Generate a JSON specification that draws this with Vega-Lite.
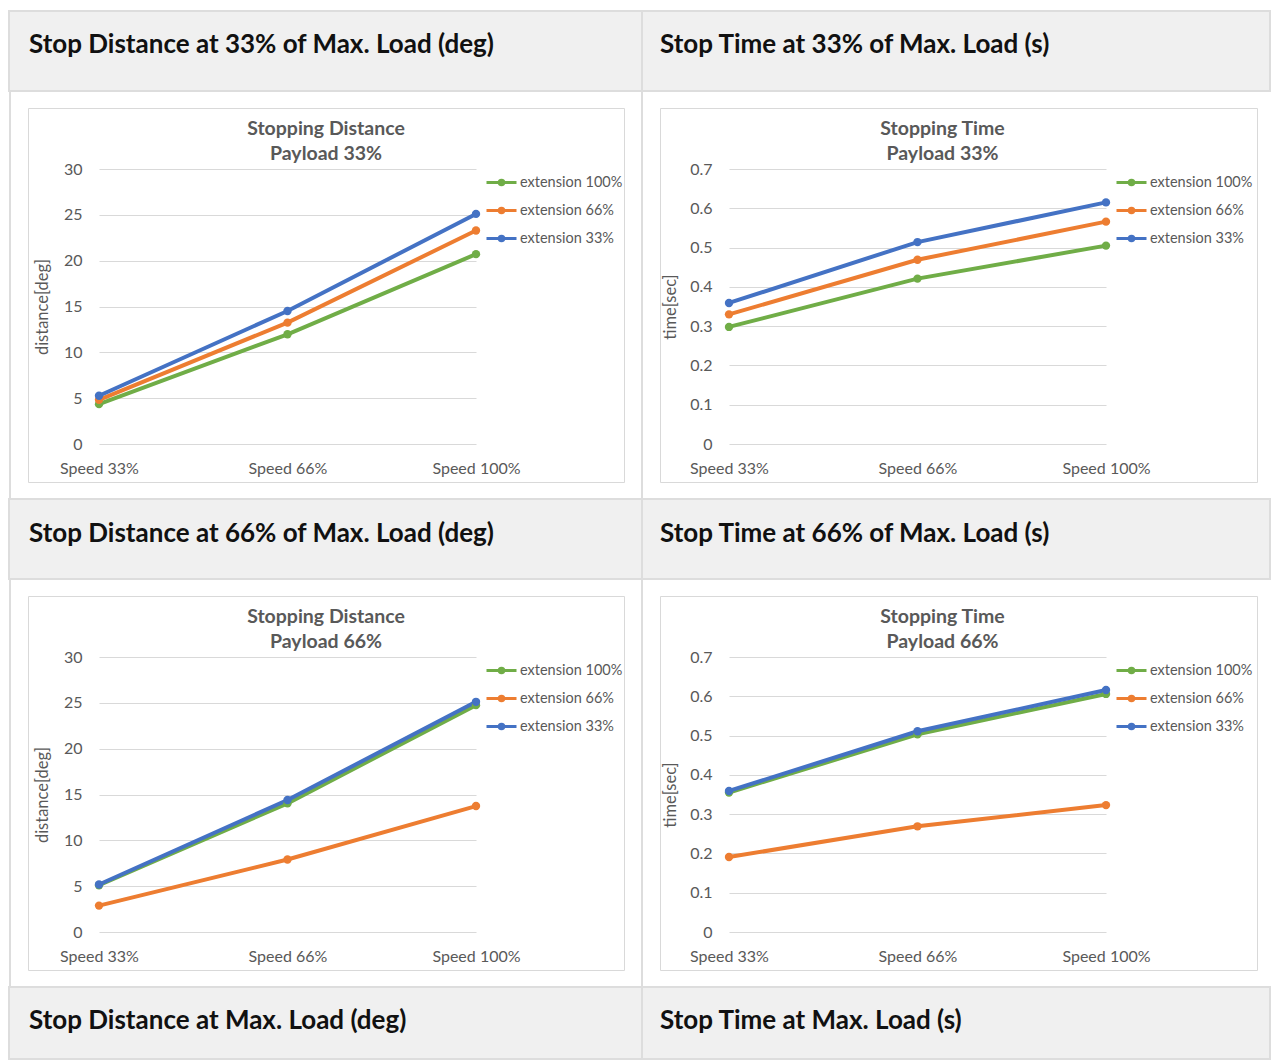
{
  "$schema": "https://vega.github.io/schema/vega-lite/v6.json",
  "padding": {"left": 8, "top": 10, "right": 0, "bottom": 0},
  "background": "white",
  "datasets": {
    "runs": [
      {"m": "distance", "p": "33%", "ext": "extension 100%", "speed": "Speed 33%", "v": 4.35},
      {"m": "distance", "p": "33%", "ext": "extension 100%", "speed": "Speed 66%", "v": 11.97},
      {"m": "distance", "p": "33%", "ext": "extension 100%", "speed": "Speed 100%", "v": 20.71},
      {"m": "distance", "p": "33%", "ext": "extension 66%", "speed": "Speed 33%", "v": 4.82},
      {"m": "distance", "p": "33%", "ext": "extension 66%", "speed": "Speed 66%", "v": 13.24},
      {"m": "distance", "p": "33%", "ext": "extension 66%", "speed": "Speed 100%", "v": 23.29},
      {"m": "distance", "p": "33%", "ext": "extension 33%", "speed": "Speed 33%", "v": 5.26},
      {"m": "distance", "p": "33%", "ext": "extension 33%", "speed": "Speed 66%", "v": 14.51},
      {"m": "distance", "p": "33%", "ext": "extension 33%", "speed": "Speed 100%", "v": 25.10},
      {"m": "time", "p": "33%", "ext": "extension 100%", "speed": "Speed 33%", "v": 0.298},
      {"m": "time", "p": "33%", "ext": "extension 100%", "speed": "Speed 66%", "v": 0.421},
      {"m": "time", "p": "33%", "ext": "extension 100%", "speed": "Speed 100%", "v": 0.505},
      {"m": "time", "p": "33%", "ext": "extension 66%", "speed": "Speed 33%", "v": 0.330},
      {"m": "time", "p": "33%", "ext": "extension 66%", "speed": "Speed 66%", "v": 0.469},
      {"m": "time", "p": "33%", "ext": "extension 66%", "speed": "Speed 100%", "v": 0.566},
      {"m": "time", "p": "33%", "ext": "extension 33%", "speed": "Speed 33%", "v": 0.359},
      {"m": "time", "p": "33%", "ext": "extension 33%", "speed": "Speed 66%", "v": 0.514},
      {"m": "time", "p": "33%", "ext": "extension 33%", "speed": "Speed 100%", "v": 0.615},
      {"m": "distance", "p": "66%", "ext": "extension 100%", "speed": "Speed 33%", "v": 5.10},
      {"m": "distance", "p": "66%", "ext": "extension 100%", "speed": "Speed 66%", "v": 14.03},
      {"m": "distance", "p": "66%", "ext": "extension 100%", "speed": "Speed 100%", "v": 24.75},
      {"m": "distance", "p": "66%", "ext": "extension 66%", "speed": "Speed 33%", "v": 2.88},
      {"m": "distance", "p": "66%", "ext": "extension 66%", "speed": "Speed 66%", "v": 7.91},
      {"m": "distance", "p": "66%", "ext": "extension 66%", "speed": "Speed 100%", "v": 13.74},
      {"m": "distance", "p": "66%", "ext": "extension 33%", "speed": "Speed 33%", "v": 5.18},
      {"m": "distance", "p": "66%", "ext": "extension 33%", "speed": "Speed 66%", "v": 14.40},
      {"m": "distance", "p": "66%", "ext": "extension 33%", "speed": "Speed 100%", "v": 25.11},
      {"m": "time", "p": "66%", "ext": "extension 100%", "speed": "Speed 33%", "v": 0.355},
      {"m": "time", "p": "66%", "ext": "extension 100%", "speed": "Speed 66%", "v": 0.503},
      {"m": "time", "p": "66%", "ext": "extension 100%", "speed": "Speed 100%", "v": 0.606},
      {"m": "time", "p": "66%", "ext": "extension 66%", "speed": "Speed 33%", "v": 0.191},
      {"m": "time", "p": "66%", "ext": "extension 66%", "speed": "Speed 66%", "v": 0.269},
      {"m": "time", "p": "66%", "ext": "extension 66%", "speed": "Speed 100%", "v": 0.323},
      {"m": "time", "p": "66%", "ext": "extension 33%", "speed": "Speed 33%", "v": 0.359},
      {"m": "time", "p": "66%", "ext": "extension 33%", "speed": "Speed 66%", "v": 0.511},
      {"m": "time", "p": "66%", "ext": "extension 33%", "speed": "Speed 100%", "v": 0.616}
    ]
  },
  "config": {
    "font": "Lato",
    "axis": {"labelFont": "Lato", "labelColor": "#595959", "labelFontSize": 16, "titleFont": "Lato", "titleColor": "#595959", "titleFontWeight": "normal", "titleFontSize": 16.5, "domain": false, "ticks": false},
    "legend": {"labelFont": "Lato", "labelFontSize": 14.5, "labelColor": "#595959", "labelOffset": 2, "symbolSize": 900, "symbolStrokeWidth": 3, "rowPadding": 3},
    "title": {"font": "Lato", "fontSize": 19.5, "fontWeight": "bold", "color": "#595959", "lineHeight": 25, "anchor": "middle", "frame": "group", "baseline": "top", "offset": -56}
  },
  "vconcat": [
    {
      "hconcat": [
        {"width": 633, "height": 80, "view": {"fill": "#f0f0f0", "stroke": "#dddddd", "strokeWidth": 2},
         "data": {"values": [{"label": "Stop Distance at 33% of Max. Load (deg)"}]},
         "mark": {"type": "text", "align": "left", "baseline": "middle", "dx": -296.5, "dy": -6, "font": "Lato", "fontSize": 26, "fontWeight": "bold", "color": "#111111"},
         "encoding": {"text": {"field": "label"}}},
        {"width": 628, "height": 80, "view": {"fill": "#f0f0f0", "stroke": "#dddddd", "strokeWidth": 2},
         "data": {"values": [{"label": "Stop Time at 33% of Max. Load (s)"}]},
         "mark": {"type": "text", "align": "left", "baseline": "middle", "dx": -296, "dy": -6, "font": "Lato", "fontSize": 26, "fontWeight": "bold", "color": "#111111"},
         "encoding": {"text": {"field": "label"}}}
      ],
      "spacing": 0, "bounds": "flush"
    },
    {
      "hconcat": [
        {"width": 2, "height": 406, "view": {"fill": "#dddddd", "stroke": null}, "data": {"values": []}, "mark": "text", "encoding": {}},
        {
          "width": 596, "height": 374, "view": {"fill": "white", "stroke": "#d9d9d9", "strokeWidth": 1},
          "title": {"text": ["Stopping Distance", "Payload 33%"]},
          "data": {"name": "runs"},
          "transform": [{"filter": "datum.m === 'distance' && datum.p === '33%'"}],
          "mark": {"type": "line", "strokeWidth": 4, "point": {"filled": true, "size": 70}},
          "encoding": {
            "x": {"field": "speed", "type": "ordinal", "sort": ["Speed 33%", "Speed 66%", "Speed 100%"], "scale": {"type": "point", "padding": 0, "range": [71, 448]},
                  "axis": {"orient": "bottom", "offset": -24, "labelPadding": 2, "labelBaseline": "top", "labelAngle": 0, "grid": false, "title": null}},
            "y": {"field": "v", "type": "quantitative", "scale": {"domain": [0, 30], "range": [336, 61], "nice": false},
                  "axis": {"values": [0, 5, 10, 15, 20, 25, 30], "format": "d", "grid": true, "gridColor": "#d9d9d9", "gridWidth": 1, "offset": -58, "labelPadding": 4, "title": "distance[deg]", "titlePadding": 13}},
            "color": {"field": "ext", "type": "nominal", "scale": {"domain": ["extension 100%", "extension 66%", "extension 33%"], "range": ["#70ad47", "#ed7d31", "#4472c4"]},
                      "legend": {"orient": "none", "legendX": 457, "legendY": 58, "title": null, "symbolType": "M-1,0H1M-0.15,0A0.15,0.15 0 1,0 0.15,0A0.15,0.15 0 1,0 -0.15,0"}}
          }
        },
        {"width": 2, "height": 406, "view": {"fill": "#dddddd", "stroke": null}, "data": {"values": []}, "mark": "text", "encoding": {}},
        {
          "width": 597, "height": 374, "view": {"fill": "white", "stroke": "#d9d9d9", "strokeWidth": 1},
          "title": {"text": ["Stopping Time", "Payload 33%"], "dx": -16},
          "data": {"name": "runs"},
          "transform": [{"filter": "datum.m === 'time' && datum.p === '33%'"}],
          "mark": {"type": "line", "strokeWidth": 4, "point": {"filled": true, "size": 70}},
          "encoding": {
            "x": {"field": "speed", "type": "ordinal", "sort": ["Speed 33%", "Speed 66%", "Speed 100%"], "scale": {"type": "point", "padding": 0, "range": [69, 446]},
                  "axis": {"orient": "bottom", "offset": -24, "labelPadding": 2, "labelBaseline": "top", "labelAngle": 0, "grid": false, "title": null}},
            "y": {"field": "v", "type": "quantitative", "scale": {"domain": [0, 0.7], "range": [336, 61], "nice": false},
                  "axis": {"values": [0, 0.1, 0.2, 0.3, 0.4, 0.5, 0.6, 0.7], "format": ".1~f", "grid": true, "gridColor": "#d9d9d9", "gridWidth": 1, "offset": -56, "labelPadding": 4, "title": "time[sec]", "titlePadding": 11}},
            "color": {"field": "ext", "type": "nominal", "scale": {"domain": ["extension 100%", "extension 66%", "extension 33%"], "range": ["#70ad47", "#ed7d31", "#4472c4"]},
                      "legend": {"orient": "none", "legendX": 455, "legendY": 58, "title": null, "symbolType": "M-1,0H1M-0.15,0A0.15,0.15 0 1,0 0.15,0A0.15,0.15 0 1,0 -0.15,0"}}
          }
        }
      ],
      "spacing": 17, "bounds": "flush", "center": true,
      "resolve": {"scale": {"x": "independent", "y": "independent", "color": "independent"}, "legend": {"color": "independent"}}
    },
    {
      "hconcat": [
        {"width": 633, "height": 80, "view": {"fill": "#f0f0f0", "stroke": "#dddddd", "strokeWidth": 2},
         "data": {"values": [{"label": "Stop Distance at 66% of Max. Load (deg)"}]},
         "mark": {"type": "text", "align": "left", "baseline": "middle", "dx": -296.5, "dy": -5, "font": "Lato", "fontSize": 26, "fontWeight": "bold", "color": "#111111"},
         "encoding": {"text": {"field": "label"}}},
        {"width": 628, "height": 80, "view": {"fill": "#f0f0f0", "stroke": "#dddddd", "strokeWidth": 2},
         "data": {"values": [{"label": "Stop Time at 66% of Max. Load (s)"}]},
         "mark": {"type": "text", "align": "left", "baseline": "middle", "dx": -296, "dy": -5, "font": "Lato", "fontSize": 26, "fontWeight": "bold", "color": "#111111"},
         "encoding": {"text": {"field": "label"}}}
      ],
      "spacing": 0, "bounds": "flush"
    },
    {
      "hconcat": [
        {"width": 2, "height": 406, "view": {"fill": "#dddddd", "stroke": null}, "data": {"values": []}, "mark": "text", "encoding": {}},
        {
          "width": 596, "height": 374, "view": {"fill": "white", "stroke": "#d9d9d9", "strokeWidth": 1},
          "title": {"text": ["Stopping Distance", "Payload 66%"]},
          "data": {"name": "runs"},
          "transform": [{"filter": "datum.m === 'distance' && datum.p === '66%'"}],
          "mark": {"type": "line", "strokeWidth": 4, "point": {"filled": true, "size": 70}},
          "encoding": {
            "x": {"field": "speed", "type": "ordinal", "sort": ["Speed 33%", "Speed 66%", "Speed 100%"], "scale": {"type": "point", "padding": 0, "range": [71, 448]},
                  "axis": {"orient": "bottom", "offset": -24, "labelPadding": 2, "labelBaseline": "top", "labelAngle": 0, "grid": false, "title": null}},
            "y": {"field": "v", "type": "quantitative", "scale": {"domain": [0, 30], "range": [336, 61], "nice": false},
                  "axis": {"values": [0, 5, 10, 15, 20, 25, 30], "format": "d", "grid": true, "gridColor": "#d9d9d9", "gridWidth": 1, "offset": -58, "labelPadding": 4, "title": "distance[deg]", "titlePadding": 13}},
            "color": {"field": "ext", "type": "nominal", "scale": {"domain": ["extension 100%", "extension 66%", "extension 33%"], "range": ["#70ad47", "#ed7d31", "#4472c4"]},
                      "legend": {"orient": "none", "legendX": 457, "legendY": 58, "title": null, "symbolType": "M-1,0H1M-0.15,0A0.15,0.15 0 1,0 0.15,0A0.15,0.15 0 1,0 -0.15,0"}}
          }
        },
        {"width": 2, "height": 406, "view": {"fill": "#dddddd", "stroke": null}, "data": {"values": []}, "mark": "text", "encoding": {}},
        {
          "width": 597, "height": 374, "view": {"fill": "white", "stroke": "#d9d9d9", "strokeWidth": 1},
          "title": {"text": ["Stopping Time", "Payload 66%"], "dx": -16},
          "data": {"name": "runs"},
          "transform": [{"filter": "datum.m === 'time' && datum.p === '66%'"}],
          "mark": {"type": "line", "strokeWidth": 4, "point": {"filled": true, "size": 70}},
          "encoding": {
            "x": {"field": "speed", "type": "ordinal", "sort": ["Speed 33%", "Speed 66%", "Speed 100%"], "scale": {"type": "point", "padding": 0, "range": [69, 446]},
                  "axis": {"orient": "bottom", "offset": -24, "labelPadding": 2, "labelBaseline": "top", "labelAngle": 0, "grid": false, "title": null}},
            "y": {"field": "v", "type": "quantitative", "scale": {"domain": [0, 0.7], "range": [336, 61], "nice": false},
                  "axis": {"values": [0, 0.1, 0.2, 0.3, 0.4, 0.5, 0.6, 0.7], "format": ".1~f", "grid": true, "gridColor": "#d9d9d9", "gridWidth": 1, "offset": -56, "labelPadding": 4, "title": "time[sec]", "titlePadding": 11}},
            "color": {"field": "ext", "type": "nominal", "scale": {"domain": ["extension 100%", "extension 66%", "extension 33%"], "range": ["#70ad47", "#ed7d31", "#4472c4"]},
                      "legend": {"orient": "none", "legendX": 455, "legendY": 58, "title": null, "symbolType": "M-1,0H1M-0.15,0A0.15,0.15 0 1,0 0.15,0A0.15,0.15 0 1,0 -0.15,0"}}
          }
        }
      ],
      "spacing": 17, "bounds": "flush", "center": true,
      "resolve": {"scale": {"x": "independent", "y": "independent", "color": "independent"}, "legend": {"color": "independent"}}
    },
    {
      "hconcat": [
        {"width": 633, "height": 72, "view": {"fill": "#f0f0f0", "stroke": "#dddddd", "strokeWidth": 2},
         "data": {"values": [{"label": "Stop Distance at Max. Load (deg)"}]},
         "mark": {"type": "text", "align": "left", "baseline": "middle", "dx": -296.5, "dy": -2, "font": "Lato", "fontSize": 26, "fontWeight": "bold", "color": "#111111"},
         "encoding": {"text": {"field": "label"}}},
        {"width": 628, "height": 72, "view": {"fill": "#f0f0f0", "stroke": "#dddddd", "strokeWidth": 2},
         "data": {"values": [{"label": "Stop Time at Max. Load (s)"}]},
         "mark": {"type": "text", "align": "left", "baseline": "middle", "dx": -296, "dy": -2, "font": "Lato", "fontSize": 26, "fontWeight": "bold", "color": "#111111"},
         "encoding": {"text": {"field": "label"}}}
      ],
      "spacing": 0, "bounds": "flush"
    }
  ],
  "spacing": 0,
  "bounds": "full",
  "resolve": {"scale": {"x": "independent", "y": "independent", "color": "independent"}, "legend": {"color": "independent"}}
}
